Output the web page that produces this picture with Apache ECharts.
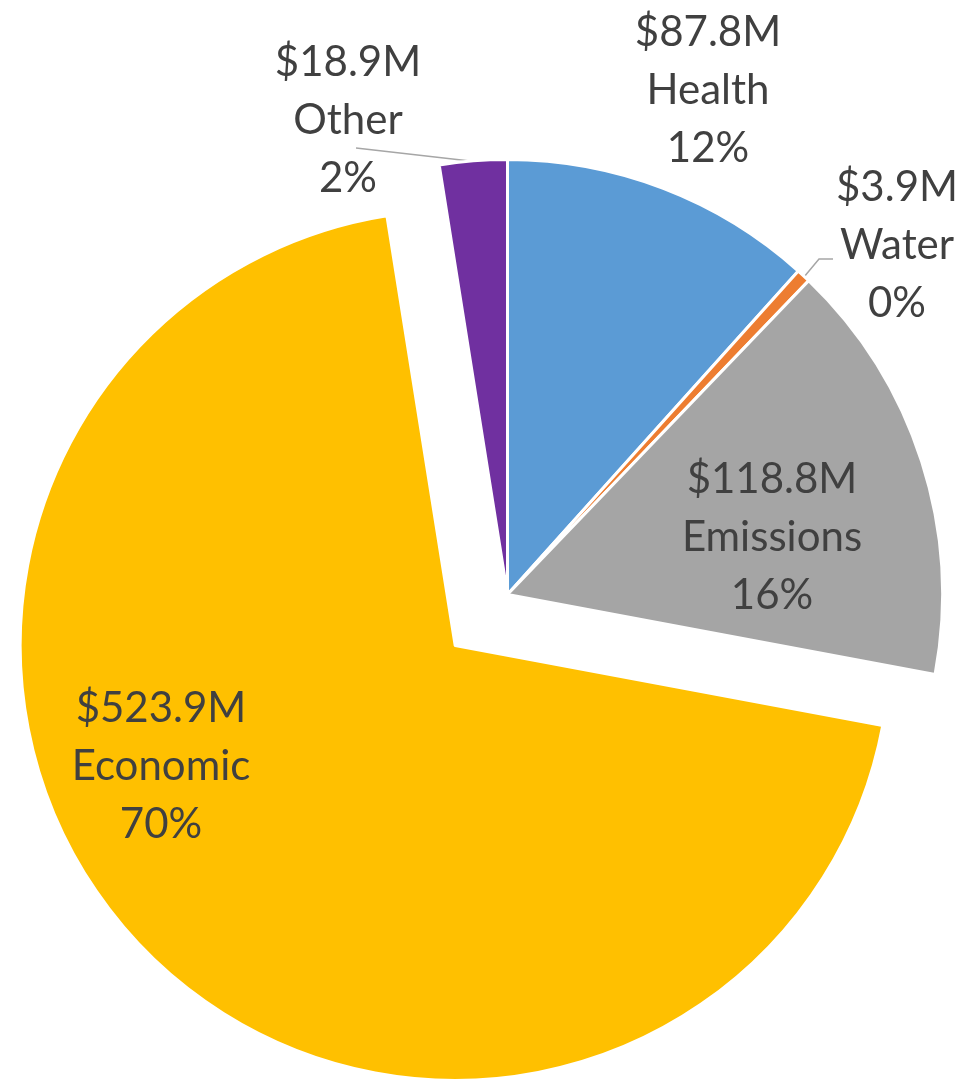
<!DOCTYPE html>
<html>
<head>
<meta charset="utf-8">
<script src="https://cdn.jsdelivr.net/npm/echarts@6/dist/echarts.min.js"></script>
<style>
html,body{margin:0;padding:0;background:#fff;}
#chart{width:966px;height:1082px;}
</style>
</head>
<body>
<div id="chart"></div>
<script>
const categories = ['Health', 'Water', 'Emissions', 'Economic', 'Other'];
const values = [87.8, 3.9, 118.8, 523.9, 18.9];
const percentLabels = ['12%', '0%', '16%', '70%', '2%'];
const colors = ['#5B9BD5', '#ED7D31', '#A5A5A5', '#FFC000', '#7030A0'];

// label layout (positions only)
const labelPos = [
  {x: 708, y: 90, line: null},
  {x: 897, y: 245, line: [[804, 277], [819, 259], [833, 259]]},
  {x: 772, y: 537, line: null},
  {x: 161, y: 766, line: null},
  {x: 348, y: 120, line: [[470, 161], [356, 148]]}
];

const chart = echarts.init(document.getElementById('chart'), null, {renderer: 'canvas'});

const sliceData = categories.map((c, i) => ({
  name: c,
  value: values[i],
  selected: c === 'Economic',
  itemStyle: {color: colors[i]}
}));

const labelData = categories.map((c, i) => ({
  name: c,
  value: values[i],
  labelLine: {show: !!labelPos[i].line, lineStyle: {color: '#A6A6A6', width: 1.5}}
}));

chart.setOption({
  animation: false,
  series: [{
    type: 'pie',
    center: [507.5, 594.5],
    radius: 435,
    startAngle: 90,
    clockwise: true,
    selectedMode: 'single',
    selectedOffset: 73,
    emphasis: {disabled: true},
    silent: true,
    itemStyle: {borderColor: '#ffffff', borderWidth: 3},
    label: {show: false},
    labelLine: {show: false},
    data: sliceData
  }, {
    type: 'pie',
    center: [507.5, 594.5],
    radius: 435,
    startAngle: 90,
    clockwise: true,
    selectedMode: false,
    silent: true,
    avoidLabelOverlap: false,
    emphasis: {disabled: true},
    itemStyle: {color: 'rgba(0,0,0,0)', borderWidth: 0},
    label: {
      show: true,
      position: 'outside',
      color: '#404040',
      fontFamily: 'Lato',
      fontSize: 42,
      lineHeight: 58,
      align: 'center',
      formatter: p => '$' + p.value.toFixed(1) + 'M\n' + p.name + '\n' + percentLabels[p.dataIndex]
    },
    labelLayout: function (params) {
      const lp = labelPos[params.dataIndex];
      const r = {x: lp.x, y: lp.y, align: 'center', verticalAlign: 'middle', moveOverlap: null};
      if (lp.line) r.labelLinePoints = lp.line;
      return r;
    },
    data: labelData
  }]
});
</script>
</body>
</html>
